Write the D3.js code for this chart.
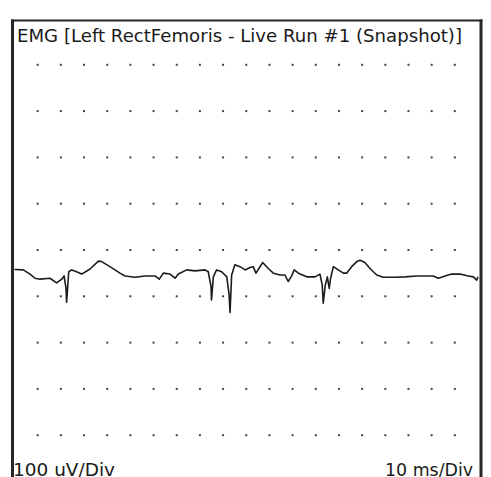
<!DOCTYPE html>
<html lang='en'>
  <meta charset='utf-8'>
  <style>
    body{ margin: 0; background: #fff; }
    svg{ display: block; }
    text{ font-family: 'DejaVu Sans', Verdana, sans-serif; fill: #1a1a1a; }
  </style>
  <body>
    <svg class='emg' width='491' height='477'></svg>

    <script src='https://d3js.org/d3.v7.min.js'></script>
    <script>
      // trace, time in ms / amplitude in uV
      const timeMs = [0, 3.8, 6.7, 8.8, 11.0, 15.3, 18.2, 20.4, 21.4, 22.2, 22.5, 23.4, 24.7, 26.8, 29.0,
        32.6, 36.2, 37.6, 41.2, 45.5, 47.7, 52.0, 56.3, 60.6, 62.5, 64.2, 67.1, 69.3, 70.7, 74.3,
        77.9, 82.2, 83.6, 84.8, 85.0, 85.8, 87.2, 89.4, 91.6, 92.6, 93.0, 93.7, 95.1, 97.3, 99.5,
        101.6, 103.0, 104.2, 107.1, 109.5, 111.7, 114.6, 116.7, 118.1, 119.6, 120.7, 122.5, 126.1,
        129.7, 131.8, 132.8, 133.2, 134.1, 135.0, 135.8, 136.4, 137.6, 139.7, 141.9, 143.3, 145.5,
        147.7, 149.1, 151.2, 153.4, 156.3, 159.1, 164.2, 168.5, 173.5, 177.1, 180.7, 182.9, 185.8,
        188.6, 192.2, 195.8, 198.0, 199.4, 200]
      const ampUv = [-42, -43, -52, -61, -63, -61, -71, -63, -56, -82, -113, -47, -43, -47, -52,
        -41, -24, -25, -36, -50, -56, -59, -56, -56, -63, -50, -52, -61, -52, -43,
        -45, -43, -47, -79, -108, -58, -43, -47, -58, -97, -135, -54, -32, -36, -43,
        -38, -36, -50, -27, -40, -50, -54, -54, -68, -56, -43, -50, -58,
        -58, -52, -76, -115, -76, -58, -83, -61, -36, -43, -50, -50, -36,
        -25, -22, -27, -40, -54, -59, -59, -58, -56, -56, -56, -61, -56,
        -52, -52, -56, -58, -65, -58]

      const gridMs = d3.range(10, 200, 10)      // dot columns
      const gridUv = d3.range(-400, 500, 100)   // dot rows

      const titleText = 'EMG [Left RectFemoris - Live Run #1 (Snapshot)]'
      const yDivLabel = '100 uV/Div'
      const xDivLabel = '10 ms/Div'

      const svg = d3.select('svg.emg')

      const x = d3.scaleLinear().domain([0, 200]).range([14.5, 478])
      const y = d3.scaleLinear().domain([-500, 500]).range([481.5, 18.5])

      // frame
      const frame = svg.append('g').attr('stroke', '#262626').attr('fill', 'none')
      frame.append('line').attr('x1', 11).attr('x2', 482.5).attr('y1', 20.5).attr('y2', 20.5).attr('stroke-width', 2)
      frame.append('line').attr('x1', 12.5).attr('x2', 12.5).attr('y1', 19.5).attr('y2', 490).attr('stroke-width', 3)
      frame.append('line').attr('x1', 481).attr('x2', 481).attr('y1', 19.5).attr('y2', 490).attr('stroke-width', 3)

      // dotted grid
      const dots = []
      gridUv.forEach((v) => {
        gridMs.forEach((t) => { dots.push({t, v}) })
      })
      svg.append('g')
        .selectAll('rect')
        .data(dots)
        .enter().append('rect')
        .attr('x', (d) => x(d.t) - 1)
        .attr('y', (d) => y(d.v) - 1)
        .attr('width', 2)
        .attr('height', 2)
        .attr('fill', '#444')

      // trace
      const trace = timeMs.map((t, i) => [t, ampUv[i]])
      svg.append('path')
        .datum(trace)
        .attr('fill', 'none')
        .attr('stroke', '#1c1c1c')
        .attr('stroke-width', 1.6)
        .attr('stroke-linejoin', 'round')
        .attr('d', d3.line().x((d) => x(d[0])).y((d) => y(d[1])))

      // labels (Verdana-ish width in the original, so stretch a bit)
      svg.append('text').attr('x', 17).attr('y', 41.5)
        .attr('font-size', 17).attr('textLength', 445).attr('lengthAdjust', 'spacingAndGlyphs')
        .text(titleText)
      svg.append('text').attr('x', 13).attr('y', 475.5)
        .attr('font-size', 17).attr('textLength', 102).attr('lengthAdjust', 'spacingAndGlyphs')
        .text(yDivLabel)
      svg.append('text').attr('x', 385).attr('y', 475.5)
        .attr('font-size', 17).attr('textLength', 88).attr('lengthAdjust', 'spacingAndGlyphs')
        .text(xDivLabel)
    </script>
</body>
</html>
